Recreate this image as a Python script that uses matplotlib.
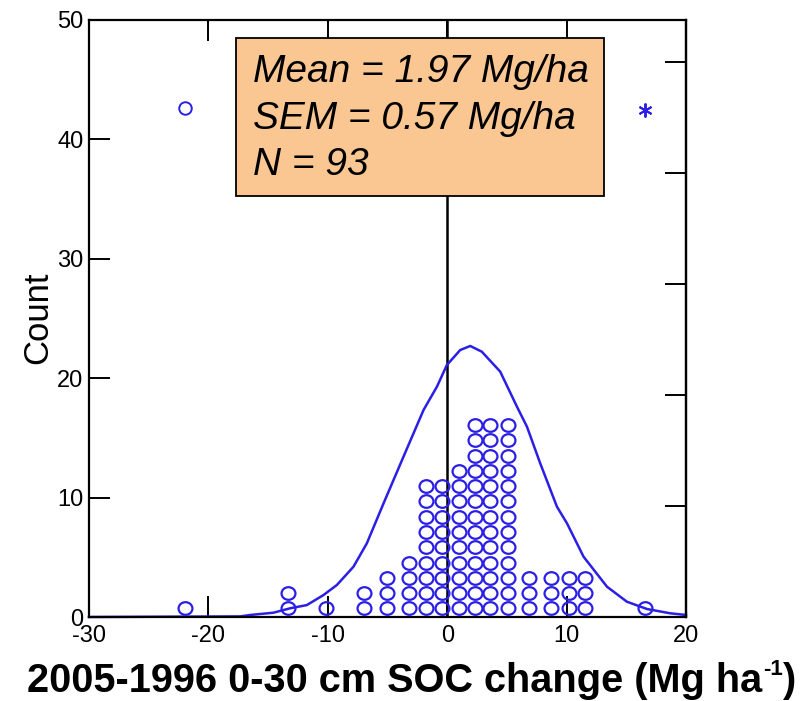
import matplotlib
matplotlib.use("Agg")
import matplotlib.pyplot as plt
from matplotlib.path import Path
from matplotlib.patches import Rectangle
from matplotlib.transforms import Affine2D

plt.rcParams["font.family"] = ["Liberation Sans", "DejaVu Sans"]
plt.rcParams["axes.unicode_minus"] = False

# dot-plot columns: bin centre (Mg/ha) and number of dots stacked
col_x = [-21.94, -13.3, -10.13, -6.95, -5.05, -3.24, -1.78, -0.4, 0.98,
         2.29, 3.6, 5.13, 6.84, 8.71, 10.16, 11.56, 16.6]
col_n = [1, 2, 1, 2, 3, 4, 9, 9, 10, 13, 13, 13, 3, 3, 3, 3, 1]

# fitted normal curve
curve_x = [-30.0, -17.34, -16.5, -14.55, -13.15, -11.75, -10.36, -9.24, -7.85,
           -6.73, -5.33, -3.66, -1.98, -0.86, -0.03, 1.09, 1.93, 2.9, 4.44,
           5.84, 6.68, 7.79, 9.19, 10.03, 11.42, 13.38, 15.05, 16.73, 18.68, 20.0]
curve_y = [0.0, 0.05, 0.17, 0.36, 0.73, 1.0, 1.84, 2.68, 4.21,
           6.17, 9.52, 13.43, 17.34, 19.29, 21.1, 22.36, 22.7, 22.22, 20.55,
           17.62, 15.94, 12.87, 9.24, 7.85, 5.05, 2.54, 1.28, 0.67, 0.31, 0.17]

# outside values shown at the top of the panel
outlier_o = (-21.94, 42.6)
outlier_star = (16.6, 42.5)

N = 93
stats_lines = ["Mean = 1.97 Mg/ha", "SEM = 0.57 Mg/ha", "N = 93"]
prop_ticks = [0, 0.1, 0.2, 0.3, 0.4, 0.5]

BLUE = "#2b1fe6"
DOT_BASE = 0.72
DOT_STEP = 1.28

fig = plt.figure(figsize=(8.07, 7.01), dpi=100)
ax = fig.add_axes([89 / 807, 1 - 617 / 701, (686 - 89) / 807, (617 - 20) / 701])

# slightly wide open ellipse for the dots
circ = Path.unit_circle()
ell = Path(Affine2D().scale(1.1, 1.0).transform(circ.vertices), circ.codes)

for x, n in zip(col_x, col_n):
    ys = [DOT_BASE + DOT_STEP * i for i in range(n)]
    ax.plot([x] * n, ys, linestyle="none", marker=ell, markersize=10,
            markerfacecolor="none", markeredgecolor=BLUE, markeredgewidth=1.6,
            zorder=3, clip_on=False)

ax.plot(curve_x, curve_y, color=BLUE, lw=1.8, zorder=2, clip_on=False)

ax.plot(*outlier_o, linestyle="none", marker="o", markersize=9,
        markerfacecolor="none", markeredgecolor=BLUE, markeredgewidth=1.4)
ax.plot(*outlier_star, linestyle="none", marker=(6, 2, 0), markersize=10,
        color=BLUE, markeredgewidth=1.4)

ax.axvline(0, color="black", lw=1.8, zorder=1)

ax.set_xlim(-30, 20)
ax.set_ylim(0, 50)
ax.set_xticks([-30, -20, -10, 0, 10, 20])
ax.set_yticks([0, 10, 20, 30, 40, 50])
ax.tick_params(direction="in", length=15, width=1.4, labelsize=17,
               top=True, right=False)
ax.tick_params(axis="x", pad=6)
ax.tick_params(axis="y", pad=4)
for s in ax.spines.values():
    s.set_linewidth(1.6)

sec = ax.secondary_yaxis("right", functions=(lambda c: c / N, lambda p: p * N))
sec.set_ticks(prop_ticks)
sec.set_yticklabels([])
sec.tick_params(direction="in", length=15, width=1.4)
sec.spines["right"].set_linewidth(1.6)

box = Rectangle((-17.67, 35.3), 30.82, 13.2, facecolor="#fac793",
                edgecolor="black", lw=1.3, zorder=5)
ax.add_patch(box)
ax.text(-16.3, 41.75, "\n".join(stats_lines), fontsize=28, style="italic",
        ha="left", va="center", linespacing=1.39, zorder=6)

fig.text(38 / 807, 1 - 318 / 701, "Count", rotation=90, fontsize=25,
         ha="center", va="center")

# x label with a small raised "-1" written as plain text
xl_y = 1 - 681 / 701
xl_main = fig.text(27 / 807, xl_y, "2005-1996 0-30 cm SOC change (Mg ha",
                   fontsize=28.6, fontweight="bold", ha="left", va="center")
fig.canvas.draw()
r = fig.canvas.get_renderer()
bb = xl_main.get_window_extent(r)
sup = fig.text(bb.x1 / 807 + 0.001, xl_y + 0.016, "-1", fontsize=16,
               fontweight="bold", ha="left", va="center")
fig.canvas.draw()
bb2 = sup.get_window_extent(r)
fig.text(bb2.x1 / 807, xl_y, ")", fontsize=28.6, fontweight="bold",
         ha="left", va="center")

fig.savefig("out.png", dpi=100)
